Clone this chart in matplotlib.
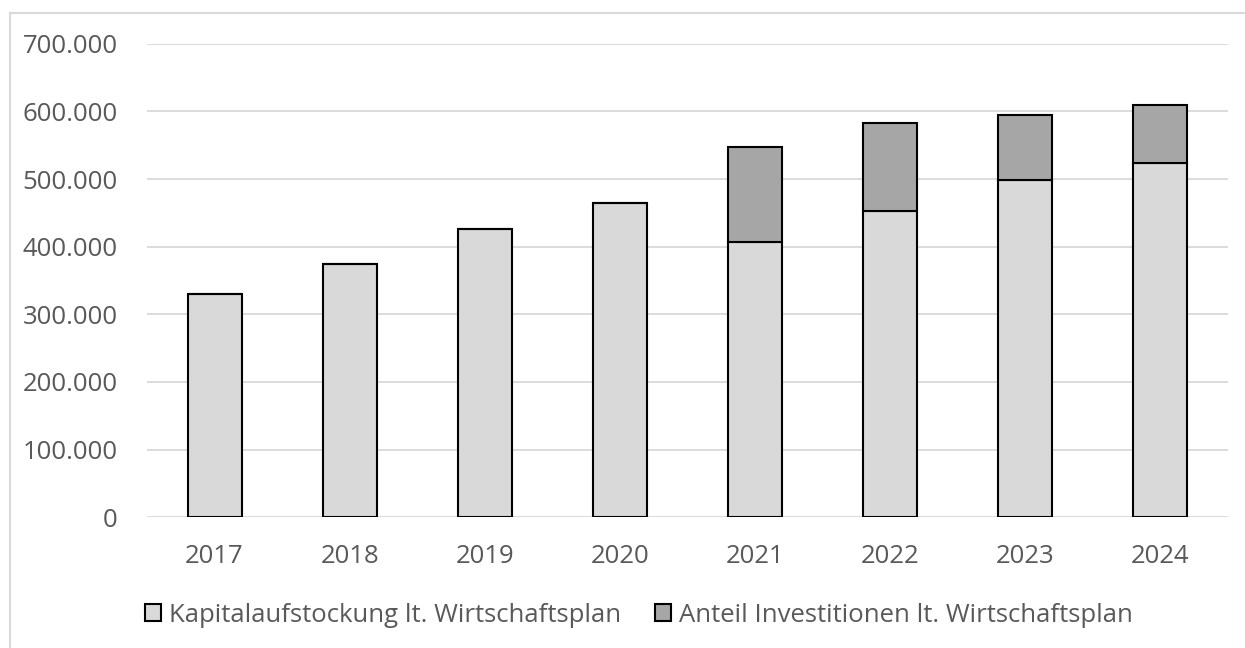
import matplotlib
matplotlib.use("Agg")
import matplotlib.pyplot as plt
from matplotlib.patches import Patch
from matplotlib.lines import Line2D
from matplotlib.ticker import FuncFormatter

# Werte (EUR) je Jahr
years = ["2017", "2018", "2019", "2020", "2021", "2022", "2023", "2024"]
kapital = [330000, 374000, 426000, 465000, 407000, 452000, 498000, 523000]
invest = [0, 0, 0, 0, 140000, 131000, 96000, 86000]
labels = ["Kapitalaufstockung lt. Wirtschaftsplan", "Anteil Investitionen lt. Wirtschaftsplan"]

plt.rcParams["font.family"] = ["Open Sans", "DejaVu Sans"]
TXT = "#595959"; GRID = "#d9d9d9"
C1, C2 = "#d9d9d9", "#a6a6a6"
FS = 18.5

W, H = 1245, 648
fig = plt.figure(figsize=(W / 100, H / 100), dpi=100)
ax = fig.add_axes([147 / W, 1 - 517.3 / H, (1228 - 147) / W, (517.3 - 43.7) / H])

x = range(len(years))
ax.bar(x, kapital, width=0.4, color=C1, edgecolor="black", linewidth=1.5, zorder=3)
ax.bar(x, invest, width=0.4, bottom=kapital, color=C2, edgecolor="black", linewidth=1.5, zorder=3)

ax.set_xlim(-0.5, len(years) - 0.5)
ax.set_ylim(0, 700000)
ax.set_yticks(range(0, 700001, 100000))
ax.yaxis.set_major_formatter(FuncFormatter(lambda v, p: f"{int(v):,}".replace(",", ".")))
ax.set_xticks(list(x))
ax.set_xticklabels(years)
ax.grid(axis="y", color=GRID, lw=1.3, zorder=0)
for s in ax.spines.values():
    s.set_visible(False)
ax.tick_params(length=0, labelsize=FS, colors=TXT)
ax.tick_params(axis="y", pad=21)
ax.tick_params(axis="x", pad=19)

handles = [Patch(facecolor=C1, edgecolor="black", lw=1.5), Patch(facecolor=C2, edgecolor="black", lw=1.5)]
leg = fig.legend(handles, labels, loc="center", bbox_to_anchor=(0.513, 1 - 615 / H), ncol=2,
                 frameon=False, fontsize=FS, handlelength=0.65, handleheight=0.65,
                 handletextpad=0.3, columnspacing=1.3, labelcolor=TXT)

# Rahmen des Diagrammbereichs
fig.add_artist(Line2D([10 / W, 10 / W], [0, 1 - 13 / H], color=GRID, lw=1.5, transform=fig.transFigure))
fig.add_artist(Line2D([10 / W, 1], [1 - 13 / H, 1 - 13 / H], color=GRID, lw=1.5, transform=fig.transFigure))

fig.savefig("out.png", dpi=100)
